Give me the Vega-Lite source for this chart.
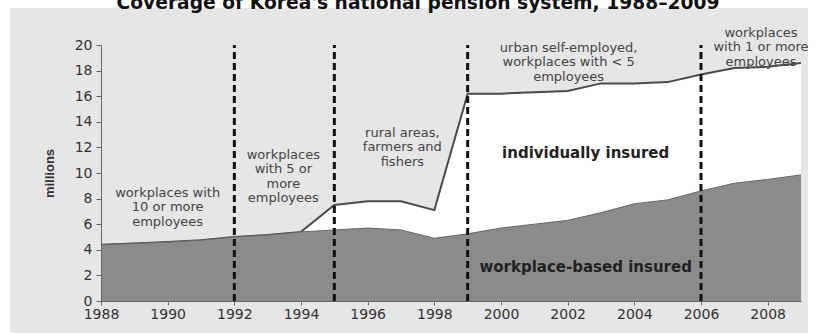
{
  "$schema": "https://vega.github.io/schema/vega-lite/v6.json",
  "width": 700,
  "height": 256,
  "autosize": {"type": "none"},
  "padding": {"left": 101, "top": 45, "right": 16, "bottom": 34},
  "background": "white",
  "title": {
    "text": "Coverage of Korea's national pension system, 1988–2009",
    "font": "DejaVu Sans",
    "fontSize": 18.7,
    "fontWeight": "bold",
    "color": "#111111",
    "baseline": "alphabetic",
    "anchor": "middle",
    "frame": "group",
    "offset": 1,
    "dx": -33,
    "dy": 21
  },
  "config": {
    "view": {"stroke": null}
  },
  "datasets": {
    "cov": [
      {"year": 1988, "workplace": 4.4, "total": 4.4},
      {"year": 1989, "workplace": 4.5, "total": 4.5},
      {"year": 1990, "workplace": 4.6, "total": 4.6},
      {"year": 1991, "workplace": 4.75, "total": 4.75},
      {"year": 1992, "workplace": 5.0, "total": 5.0},
      {"year": 1993, "workplace": 5.15, "total": 5.15},
      {"year": 1994, "workplace": 5.4, "total": 5.4},
      {"year": 1995, "workplace": 5.55, "total": 7.5},
      {"year": 1996, "workplace": 5.7, "total": 7.8},
      {"year": 1997, "workplace": 5.55, "total": 7.8},
      {"year": 1998, "workplace": 4.9, "total": 7.1},
      {"year": 1999, "workplace": 5.25, "total": 16.2},
      {"year": 2000, "workplace": 5.7, "total": 16.2},
      {"year": 2001, "workplace": 6.0, "total": 16.3},
      {"year": 2002, "workplace": 6.3, "total": 16.4},
      {"year": 2003, "workplace": 6.9, "total": 17.0},
      {"year": 2004, "workplace": 7.6, "total": 17.0},
      {"year": 2005, "workplace": 7.9, "total": 17.1},
      {"year": 2006, "workplace": 8.6, "total": 17.7},
      {"year": 2007, "workplace": 9.2, "total": 18.2},
      {"year": 2008, "workplace": 9.5, "total": 18.3},
      {"year": 2009, "workplace": 9.85, "total": 18.6}
    ],
    "reforms": [
      {"year": 1992}, {"year": 1995}, {"year": 1999}, {"year": 2006}
    ],
    "notes": [
      {"year": 1990.0, "value": 8.13, "label": ["workplaces with", "10 or more", "employees"]},
      {"year": 1993.47, "value": 11.1, "label": ["workplaces", "with 5 or", "more", "employees"]},
      {"year": 1997.04, "value": 12.82, "label": ["rural areas,", "farmers and", "fishers"]},
      {"year": 2002.03, "value": 19.47, "label": ["urban self-employed,", "workplaces with < 5", "employees"]},
      {"year": 2007.8, "value": 20.64, "label": ["workplaces", "with 1 or more", "employees"]}
    ],
    "bands": [
      {"year": 2002.54, "value": 11.18, "label": "individually insured"},
      {"year": 2002.54, "value": 2.27, "label": "workplace-based insured"}
    ]
  },
  "layer": [
    {
      "data": {"values": [{}]},
      "mark": {"type": "rect", "fill": "#e6e6e6", "clip": false},
      "encoding": {
        "x": {"datum": 1985.27, "type": "quantitative", "scale": {"domain": [1988, 2009], "nice": false, "zero": false},
          "axis": {"values": [1988,1990,1992,1994,1996,1998,2000,2002,2004,2006,2008], "tickCount": 30, "format": "d", "title": null,
            "tickSize": 4, "labelPadding": 2, "zindex": 2, "grid": false, "labelOverlap": false, "labelFlush": false, "labelBound": false,
            "labelFont": "DejaVu Sans", "labelFontSize": 14, "labelColor": "#333333", "domainColor": "#666666", "tickColor": "#666666"}},
        "x2": {"datum": 2009.21},
        "y": {"datum": 22.89, "type": "quantitative", "scale": {"domain": [0, 20], "nice": false},
          "axis": {"values": [0,2,4,6,8,10,12,14,16,18,20], "tickCount": 30, "format": "d", "title": "millions", "titleFont": "Liberation Sans", "titleFontSize": 13, "titleFontWeight": "bold", "titleColor": "#333333", "titlePadding": 18,
            "tickSize": 5, "labelPadding": 4, "zindex": 2, "grid": false, "labelOverlap": false, "labelFlush": false, "labelBound": false,
            "labelFont": "DejaVu Sans", "labelFontSize": 14, "labelColor": "#333333", "domainColor": "#666666", "tickColor": "#666666"}},
        "y2": {"datum": -2.5}
      }
    },
    {
      "data": {"name": "cov"},
      "mark": {"type": "area", "fill": "white"},
      "encoding": {
        "x": {"field": "year", "type": "quantitative"},
        "y": {"field": "total", "type": "quantitative"}
      }
    },
    {
      "data": {"name": "cov"},
      "mark": {"type": "line", "stroke": "#4a4a4a", "strokeWidth": 2},
      "encoding": {
        "x": {"field": "year", "type": "quantitative"},
        "y": {"field": "total", "type": "quantitative"}
      }
    },
    {
      "data": {"name": "cov"},
      "mark": {"type": "area", "fill": "#8b8b8b"},
      "encoding": {
        "x": {"field": "year", "type": "quantitative"},
        "y": {"field": "workplace", "type": "quantitative"}
      }
    },
    {
      "data": {"name": "cov"},
      "mark": {"type": "line", "stroke": "#666666", "strokeWidth": 1},
      "encoding": {
        "x": {"field": "year", "type": "quantitative"},
        "y": {"field": "workplace", "type": "quantitative"}
      }
    },
    {
      "data": {"name": "reforms"},
      "mark": {"type": "rule", "stroke": "#111111", "strokeWidth": 3, "strokeDash": [7, 4]},
      "encoding": {
        "x": {"field": "year", "type": "quantitative"},
        "y": {"datum": 0},
        "y2": {"datum": 20}
      }
    },
    {
      "data": {"name": "notes"},
      "mark": {"type": "text", "font": "DejaVu Sans", "fontSize": 13, "color": "#444444", "align": "center", "baseline": "alphabetic", "lineHeight": 14.5},
      "encoding": {
        "x": {"field": "year", "type": "quantitative"},
        "y": {"field": "value", "type": "quantitative"},
        "text": {"field": "label"}
      }
    },
    {
      "data": {"name": "bands"},
      "mark": {"type": "text", "font": "DejaVu Sans", "fontSize": 15, "fontWeight": "bold", "color": "#222222", "align": "center", "baseline": "alphabetic"},
      "encoding": {
        "x": {"field": "year", "type": "quantitative"},
        "y": {"field": "value", "type": "quantitative"},
        "text": {"field": "label"}
      }
    }
  ]
}
